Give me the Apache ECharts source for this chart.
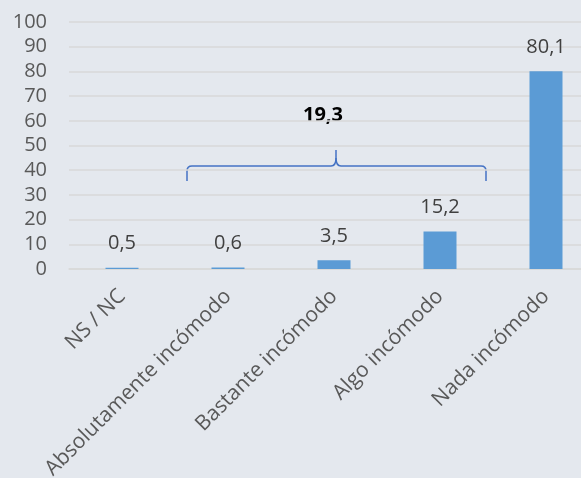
<!DOCTYPE html>
<html>
<head>
<meta charset="utf-8">
<script src="https://cdn.jsdelivr.net/npm/echarts@6/dist/echarts.min.js"></script>
<style>
html,body{margin:0;padding:0;background:#e4e8ee;}
#main{width:581px;height:478px;}
</style>
</head>
<body>
<div id="main"></div>
<script>
// datos del gráfico
var categorias = ['NS / NC', 'Absolutamente incómodo', 'Bastante incómodo', 'Algo incómodo', 'Nada incómodo'];
var valores = [0.5, 0.6, 3.5, 15.2, 80.1];
var totalLlave = '19,3';
var yMin = 0, yMax = 100, yPaso = 10;

var myChart = echarts.init(document.getElementById('main'));
var fuente = '"Open Sans", sans-serif';
var trazo = { fill: null, stroke: '#4472c4', lineWidth: 1.5 };

// llave: tramos rectos y curvas
function recta(x1, y1, x2, y2) {
  return { type: 'line', shape: { x1: x1, y1: y1, x2: x2, y2: y2 }, style: trazo };
}
function curva(x1, y1, cx, cy, x2, y2) {
  return { type: 'bezierCurve', shape: { x1: x1, y1: y1, cpx1: cx, cpy1: cy, x2: x2, y2: y2 }, style: trazo };
}

option = {
  backgroundColor: '#e4e8ee',
  animation: false,
  grid: { left: 69, right: -18, top: 22, bottom: 209, outerBoundsMode: 'none', containLabel: false },
  xAxis: {
    type: 'category',
    data: categorias,
    axisLine: { show: true, lineStyle: { color: '#d9d9d9', width: 1.5 } },
    axisTick: { show: false },
    axisLabel: {
      rotate: 45, margin: 24, interval: 0,
      color: '#595959', fontSize: 21, fontFamily: fuente
    }
  },
  yAxis: {
    type: 'value',
    min: yMin, max: yMax, interval: yPaso,
    axisLine: { show: false },
    axisTick: { show: false },
    splitLine: { lineStyle: { color: '#d9d9d9', width: 1.5 } },
    axisLabel: { margin: 22, color: '#595959', fontSize: 20, fontFamily: fuente }
  },
  series: [{
    type: 'bar',
    data: valores,
    barWidth: 33,
    itemStyle: { color: '#5b9bd5' },
    label: {
      show: true, position: 'top', distance: 14,
      color: '#404040', fontSize: 20, fontFamily: fuente,
      formatter: function (p) { return String(p.value).replace('.', ','); }
    }
  }],
  graphic: [
    recta(187, 181, 187, 171),
    curva(187, 171, 187, 166, 192, 166),
    recta(192, 166, 331, 166),
    curva(331, 166, 336, 166, 336, 158),
    recta(336, 158, 336, 150),
    curva(336, 158, 336, 166, 341, 166),
    recta(341, 166, 481, 166),
    curva(481, 166, 486, 166, 486, 171),
    recta(486, 171, 486, 181),
    {
      type: 'text',
      x: 323, y: 115,
      style: {
        text: totalLlave, fill: '#000', fontSize: 20, fontWeight: 'bold',
        fontFamily: fuente, align: 'center', verticalAlign: 'middle'
      }
    }
  ]
};

myChart.setOption(option);
</script>
</body>
</html>
